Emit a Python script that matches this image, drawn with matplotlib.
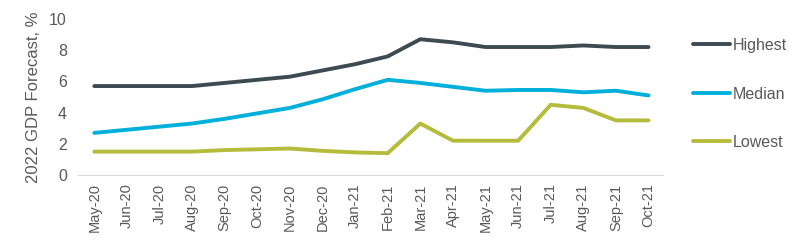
import matplotlib
matplotlib.use("Agg")
from matplotlib import pyplot as plt

#   DATA
months = ["May-20", "Jun-20", "Jul-20", "Aug-20", "Sep-20", "Oct-20", "Nov-20", "Dec-20", "Jan-21",
          "Feb-21", "Mar-21", "Apr-21", "May-21", "Jun-21", "Jul-21", "Aug-21", "Sep-21", "Oct-21"]
highest = [5.7, 5.7, 5.7, 5.7, 5.9, 6.1, 6.3, 6.7, 7.1, 7.6, 8.7, 8.5, 8.2, 8.2, 8.2, 8.3, 8.2, 8.2]
median = [2.7, 2.9, 3.1, 3.3, 3.6, 3.95, 4.3, 4.85, 5.5, 6.1, 5.9, 5.65, 5.4, 5.45, 5.45, 5.3, 5.4, 5.1]
lowest = [1.5, 1.5, 1.5, 1.5, 1.6, 1.65, 1.7, 1.55, 1.45, 1.4, 3.3, 2.2, 2.2, 2.2, 4.5, 4.3, 3.5, 3.5]

series_names = ["Highest", "Median", "Lowest"]
colors = ["#3e4a52", "#00b0da", "#b5bb3a"]
text_color = "#595959"

plt.rcParams['font.family'] = ['Liberation Sans', 'DejaVu Sans']

fig = plt.figure(figsize=(8, 2.49), dpi=100)
ax = fig.add_axes([0.0975, 0.297, 0.7315, 0.627])

x = list(range(len(months)))
for name, values, color in zip(series_names, [highest, median, lowest], colors):
    ax.plot(x, values, color=color, linewidth=2.8, label=name, solid_capstyle='round')

ax.set_xlim(-0.5, len(months) - 0.55)
ax.set_ylim(0, 10)
ax.set_yticks([0, 2, 4, 6, 8, 10])
ax.set_xticks(x)
ax.set_xticklabels(months, rotation=90, fontsize=10.5, color=text_color)
ax.tick_params(axis='y', labelsize=11.5, colors=text_color, length=0, pad=8)
ax.tick_params(axis='x', length=0, pad=6)
ax.set_ylabel("2022 GDP Forecast, %", fontsize=12, color=text_color, labelpad=6)

for side in ['top', 'right', 'left']:
    ax.spines[side].set_visible(False)
ax.spines['bottom'].set_color("#d9d9d9")

legend = ax.legend(loc='upper left', bbox_to_anchor=(1.027, 0.97), frameon=False,
                   fontsize=11.5, handlelength=2.3, handletextpad=0.15, labelspacing=2.1)
for txt in legend.get_texts():
    txt.set_color(text_color)

plt.savefig("out.png", dpi=100)
